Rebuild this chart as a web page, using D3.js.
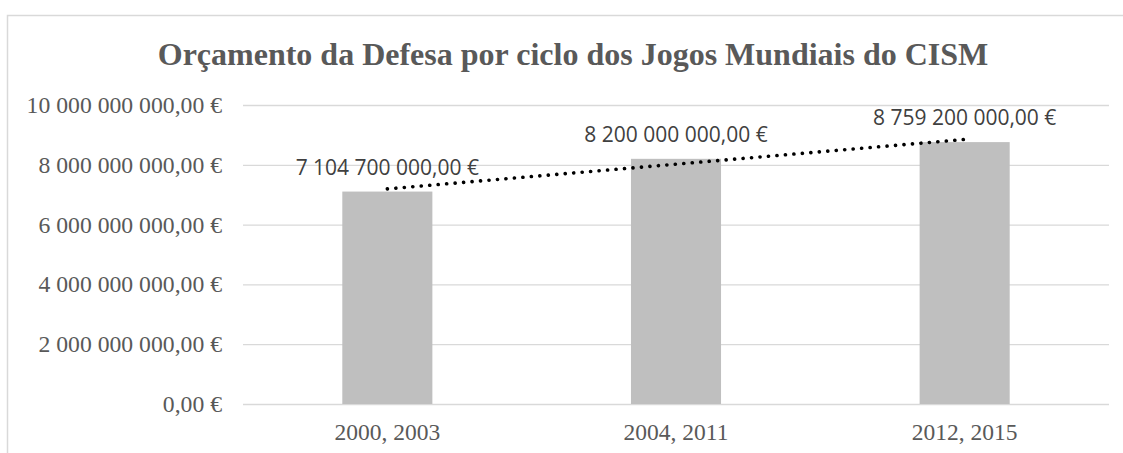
<!DOCTYPE html>
<html>
<head>
<meta charset="utf-8">
<script src="https://cdn.jsdelivr.net/npm/d3@7"></script>
<style>
  body { margin: 0; background: #fff; }
</style>
</head>
<body>
<div id="chart"></div>
<script>
// Orçamento da Defesa por ciclo - bar chart + linear trend

const categories = ["2000, 2003", "2004, 2011", "2012, 2015"];
const budget = [7104700000, 8200000000, 8759200000];
const yTicks = [0, 2000000000, 4000000000, 6000000000, 8000000000, 10000000000];
const title = "Orçamento da Defesa por ciclo dos Jogos Mundiais do CISM";

const W = 1123;
const H = 453;

const margin = {
  top: 105,
  right: 14,
  bottom: 49,
  left: 243,
};

const width = W - margin.left - margin.right;
const height = H - margin.top - margin.bottom;

// pt-PT style currency: "8 200 000 000,00 €"
const locale = d3.formatLocale({
  decimal: ",",
  thousands: " ",
  grouping: [3],
  currency: ["", " €"],
});
const fmt = locale.format("$,.2f");

const serif = "'Liberation Serif', 'Times New Roman', serif";

const svg = d3
  .select("#chart")
  .append("svg")
  .attr("width", W)
  .attr("height", H);

// chart area border (runs off the picture at right / bottom)
svg
  .append("rect")
  .attr("x", 7.5)
  .attr("y", 15.5)
  .attr("width", 1200)
  .attr("height", 600)
  .attr("fill", "none")
  .attr("stroke", "#d9d9d9")
  .attr("stroke-width", 1.5);

svg
  .append("text")
  .attr("x", 573)
  .attr("y", 65)
  .attr("text-anchor", "middle")
  .style("font-family", serif)
  .style("font-weight", "bold")
  .style("font-size", "32px")
  .style("fill", "#595959")
  .text(title);

const g = svg
  .append("g")
  .attr("transform", `translate(${margin.left},${margin.top})`);

const x = d3.scaleBand().domain(categories).range([0, width]).padding(0);
const y = d3.scaleLinear().domain([0, 10000000000]).range([height, 0]);

// Y axis + gridlines
const yAxis = g
  .append("g")
  .call(
    d3
      .axisLeft(y)
      .tickValues(yTicks)
      .tickSize(-width)
      .tickPadding(21)
      .tickFormat(fmt)
  );
yAxis.select(".domain").remove();
yAxis.selectAll(".tick line").attr("stroke", "#d9d9d9").attr("stroke-width", 1.3);
yAxis
  .selectAll(".tick text")
  .style("font-family", serif)
  .style("font-size", "23.7px")
  .style("fill", "#595959");

// X axis labels
const xAxis = g
  .append("g")
  .attr("transform", `translate(0,${height})`)
  .call(d3.axisBottom(x).tickSize(0).tickPadding(19));
xAxis.select(".domain").remove();
xAxis
  .selectAll(".tick text")
  .style("font-family", serif)
  .style("font-size", "23.5px")
  .style("fill", "#595959");

const barW = x.bandwidth() * 0.312;
const cx = (d) => x(d) + x.bandwidth() / 2;

g.append("g")
  .selectAll("rect")
  .data(categories)
  .join("rect")
  .attr("x", (d) => cx(d) - barW / 2)
  .attr("y", (d, i) => y(budget[i]))
  .attr("width", barW)
  .attr("height", (d, i) => y(0) - y(budget[i]))
  .attr("fill", "#bfbfbf");

// data labels
g.append("g")
  .selectAll("text")
  .data(categories)
  .join("text")
  .attr("x", (d) => cx(d))
  .attr("y", (d, i) => y(budget[i]) - 17)
  .attr("text-anchor", "middle")
  .style("font-family", "'Open Sans', 'Liberation Sans', sans-serif")
  .style("font-size", "21px")
  .style("fill", "#404040")
  .text((d, i) => fmt(budget[i]));

// linear trend (least squares over category index 1..n)
const idx = budget.map((v, i) => i + 1);
const mx = d3.mean(idx);
const my = d3.mean(budget);
const slope =
  d3.sum(idx, (t, i) => (t - mx) * (budget[i] - my)) /
  d3.sum(idx, (t) => (t - mx) * (t - mx));
const trend = (t) => my + slope * (t - mx);

const trendPts = [0, categories.length - 1].map((i) => [
  cx(categories[i]),
  y(trend(i + 1)),
]);

g.append("path")
  .attr("d", d3.line()(trendPts))
  .attr("fill", "none")
  .attr("stroke", "#000")
  .attr("stroke-width", 3.6)
  .attr("stroke-linecap", "round")
  .attr("stroke-dasharray", "0.1,8.4");
</script>
</body>
</html>
